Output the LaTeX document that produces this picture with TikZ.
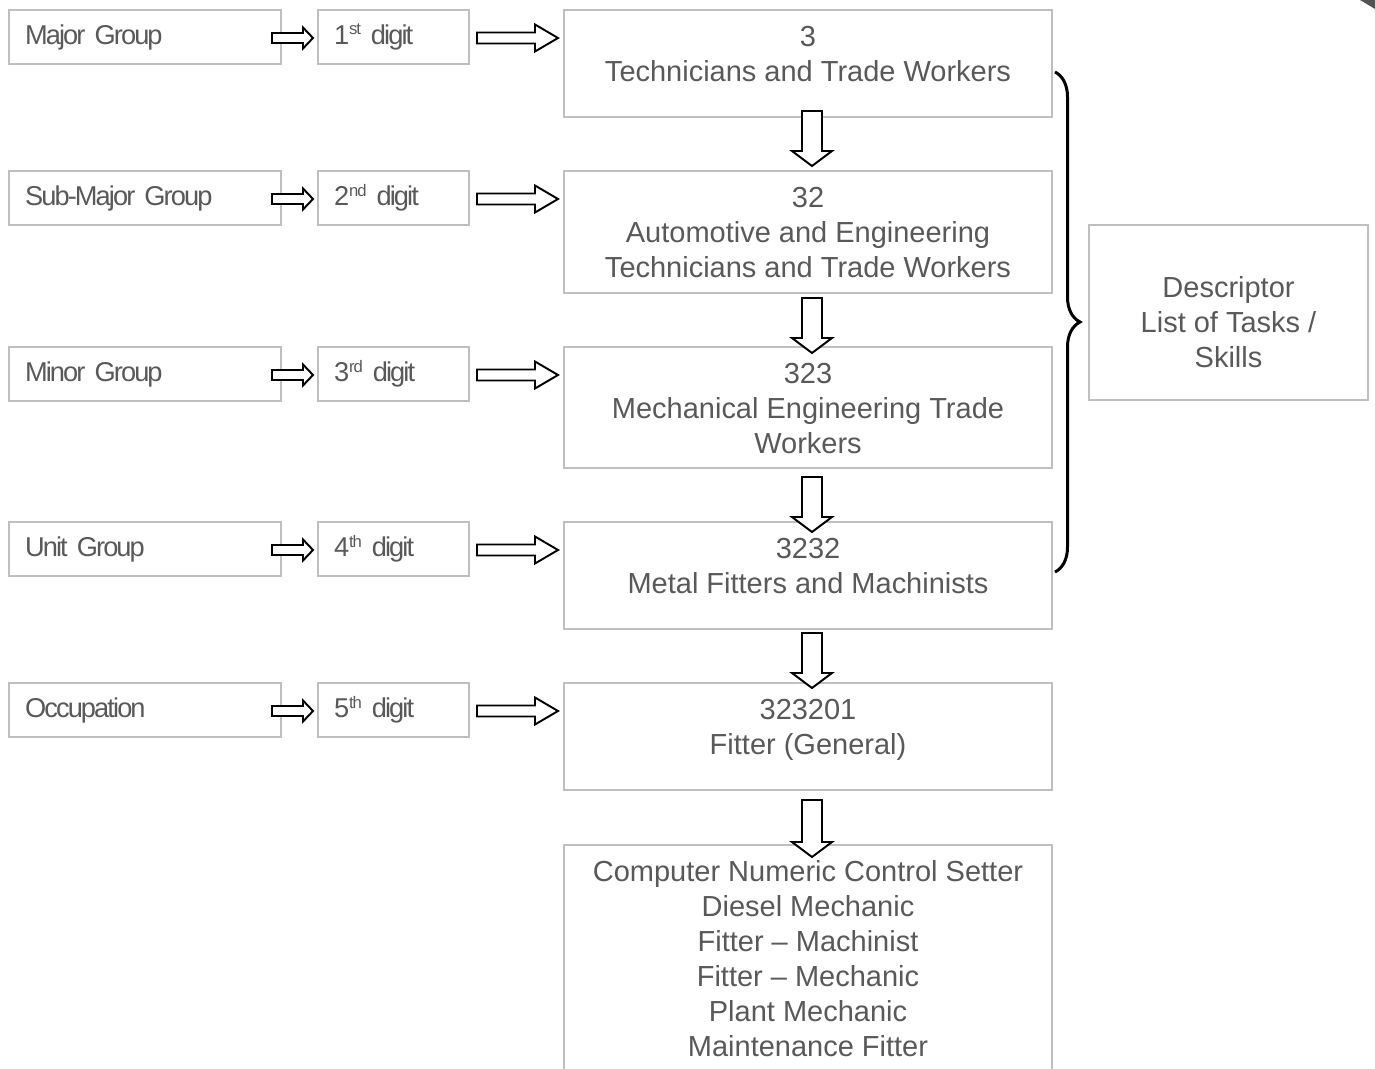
\documentclass[tikz,border=0pt]{standalone}
\usepackage{fontspec}
\setmainfont{Liberation Sans}
\newfontfamily\tightfont[LetterSpace=-7]{Liberation Sans}
\newcommand\levelfont{\fontsize{15.5}{18}\tightfont\fontdimen2\font=0.2em\relax}
\newcommand\ord[1]{\textsuperscript{\fontsize{9.5}{9.5}\selectfont #1}}
\usetikzlibrary{decorations.pathreplacing, calc}

\definecolor{txtgray}{HTML}{595959}
\definecolor{framegray}{HTML}{BFBFBF}

\tikzset{
  frame/.style={draw=framegray, line width=0.8pt},
  levelbox/.style={frame, minimum width=5.44cm, minimum height=1.08cm, text width=4.8cm,
    inner xsep=0.32cm, inner ysep=0pt, align=left, text=txtgray, font=\levelfont},
  digitbox/.style={levelbox, minimum width=3.02cm, text width=2.38cm},
  codebox/.style={frame, minimum width=9.76cm, inner sep=0pt},
  codetext/.style={inner sep=0pt, align=center, text=txtgray, font=\fontsize{16.5}{19.9}\selectfont},
  % hollow block arrow: length, shaft half width, head half width, head length
  pics/blockarrow/.style n args={4}{code={
    \draw[line width=1.1pt, fill=white, line join=miter]
      (0,-#2) -- ({#1-#4},-#2) -- ({#1-#4},-#3) -- (#1,0) -- ({#1-#4},#3)
      -- ({#1-#4},#2) -- (0,#2) -- cycle;
  }},
}

\begin{document}
\begin{tikzpicture}[x=0.02cm, y=-0.02cm]
  \useasboundingbox (0,0) rectangle (1375,1068);
  \fill[black!68] (1360,0) -- (1375,0) -- (1375,9) -- cycle;

  % levels and digits
  \node[levelbox] (major) at (145,37) {Major Group};
  \node[levelbox] (submajor) at (145,198) {Sub-Major Group};
  \node[levelbox] (minor) at (145,374) {Minor Group};
  \node[levelbox] (unit) at (145,549) {Unit Group};
  \node[levelbox] (occ) at (145,710) {Occupation};

  \node[digitbox] (d1) at (393.5,37) {1\ord{st} digit};
  \node[digitbox] (d2) at (393.5,198) {2\ord{nd} digit};
  \node[digitbox] (d3) at (393.5,374) {3\ord{rd} digit};
  \node[digitbox] (d4) at (393.5,549) {4\ord{th} digit};
  \node[digitbox] (d5) at (393.5,710) {5\ord{th} digit};

  % code boxes
  \node[codebox, minimum height=2.14cm] (m1) at (808,63.5) {};
  \node[codebox, minimum height=2.44cm] (m2) at (808,232) {};
  \node[codebox, minimum height=2.42cm] (m3) at (808,407.5) {};
  \node[codebox, minimum height=2.14cm] (m4) at (808,575.5) {};
  \node[codebox, minimum height=2.14cm] (m5) at (808,736.5) {};
  \node[codebox, minimum height=5.1cm] (m6) at (808,972.5) {};

  \node[codetext, anchor=north] (t1) at ([yshift=-0.33cm]m1.north) {3\\Technicians and Trade Workers};
  \node[codetext, anchor=north] (t2) at ([yshift=-0.33cm]m2.north) {32\\Automotive and Engineering\\Technicians and Trade Workers};
  \node[codetext, anchor=north] (t3) at ([yshift=-0.33cm]m3.north) {323\\Mechanical Engineering Trade\\Workers};
  \node[codetext, anchor=north] (t4) at ([yshift=-0.33cm]m4.north) {3232\\Metal Fitters and Machinists};
  \node[codetext, anchor=north] (t5) at ([yshift=-0.33cm]m5.north) {323201\\Fitter (General)};
  \node[codetext, anchor=north] (t6) at ([yshift=-0.31cm]m6.north) {Computer Numeric Control Setter\\Diesel Mechanic\\Fitter -- Machinist\\Fitter -- Mechanic\\Plant Mechanic\\Maintenance Fitter};

  % descriptor
  \node[frame, minimum width=5.58cm, minimum height=3.5cm] (desc) at (1228.5,312.5) {};
  \node[codetext] (desctext) at (1228.5,322) {Descriptor\\List of Tasks /\\Skills};

  % arrows: level -> digit -> code
  \pic at (272,38) {blockarrow={41}{5}{10.5}{10}};
  \pic at (272,199) {blockarrow={41}{5}{10.5}{10}};
  \pic at (272,375) {blockarrow={41}{5}{10.5}{10}};
  \pic at (272,550) {blockarrow={41}{5}{10.5}{10}};
  \pic at (272,711) {blockarrow={41}{5}{10.5}{10}};

  \pic at (477,38) {blockarrow={81}{5.5}{13.5}{23}};
  \pic at (477,199) {blockarrow={81}{5.5}{13.5}{23}};
  \pic at (477,375) {blockarrow={81}{5.5}{13.5}{23}};
  \pic at (477,550) {blockarrow={81}{5.5}{13.5}{23}};
  \pic at (477,711) {blockarrow={81}{5.5}{13.5}{23}};

  % arrows down the code boxes
  \pic[rotate=-90] at (812,111) {blockarrow={55}{10}{20}{15}};
  \pic[rotate=-90] at (812,298) {blockarrow={55}{10}{20}{15}};
  \pic[rotate=-90] at (812,477) {blockarrow={55}{10}{20}{15}};
  \pic[rotate=-90] at (812,633) {blockarrow={55}{10}{20}{15}};
  \pic[rotate=-90] at (812,800) {blockarrow={57}{10}{20}{15}};

  % brace over the four groups
  \coordinate (bt) at (1055,72);
  \coordinate (bb) at (1055,572);
  \draw[line width=1.7pt, decorate, decoration={brace, amplitude=0.5cm}] (bt) -- (bb);
\end{tikzpicture}
\end{document}
